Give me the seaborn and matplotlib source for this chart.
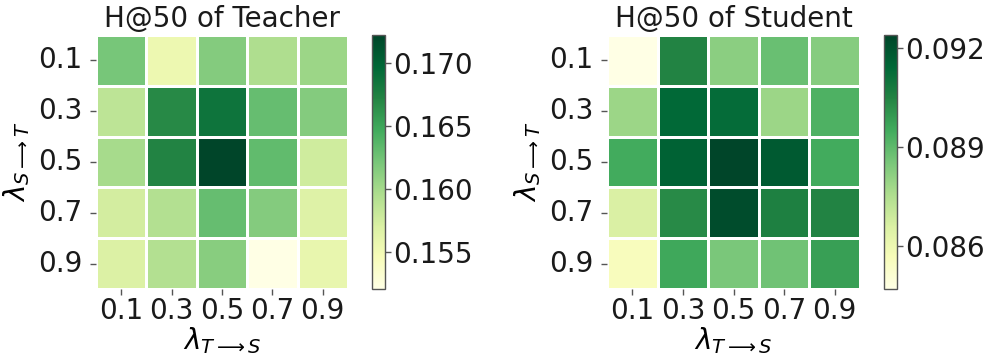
import numpy as np
import pandas as pd
import matplotlib
matplotlib.use("Agg")
import matplotlib.pyplot as plt
import seaborn as sns

# Grid of loss weights
lam_st = ["0.1", "0.3", "0.5", "0.7", "0.9"]   # rows: lambda S->T
lam_ts = ["0.1", "0.3", "0.5", "0.7", "0.9"]   # cols: lambda T->S

# H@50 of the teacher model
teacher_h50 = [
    [0.1622, 0.1555, 0.1616, 0.1595, 0.1605],
    [0.1587, 0.1668, 0.1686, 0.1630, 0.1616],
    [0.1599, 0.1672, 0.1722, 0.1632, 0.1577],
    [0.1575, 0.1593, 0.1630, 0.1616, 0.1567],
    [0.1569, 0.1593, 0.1614, 0.1521, 0.1559],
]

# H@50 of the student model
student_h50 = [
    [0.0847, 0.0905, 0.0882, 0.0888, 0.0883],
    [0.0879, 0.0914, 0.0913, 0.0879, 0.0893],
    [0.0895, 0.0916, 0.0924, 0.0918, 0.0895],
    [0.0866, 0.0903, 0.0922, 0.0906, 0.0905],
    [0.0856, 0.0896, 0.0885, 0.0887, 0.0898],
]

teacher_ticks = [0.155, 0.160, 0.165, 0.170]
student_ticks = [0.086, 0.089, 0.092]

FS = 20

plt.rcParams.update({
    "font.family": "DejaVu Sans",
    "mathtext.fontset": "dejavusans",
    "font.size": FS,
    "text.color": "#1a1a1a",
    "xtick.color": "#555555",
    "ytick.color": "#555555",
    "xtick.labelcolor": "#1a1a1a",
    "ytick.labelcolor": "#1a1a1a",
    "xtick.major.size": 4,
    "ytick.major.size": 4,
    "xtick.major.width": 1,
    "ytick.major.width": 1,
})

W, H = 985, 357
fig = plt.figure(figsize=(W / 100, H / 100), dpi=100)


def px_axes(x0, y0, x1, y1):
    return fig.add_axes([x0 / W, 1 - y1 / H, (x1 - x0) / W, (y1 - y0) / H])


panels = [
    ("H@50 of Teacher", teacher_h50, teacher_ticks, (96, 35, 348, 289), (372, 35, 385, 289)),
    ("H@50 of Student", student_h50, student_ticks, (607, 35, 860, 289), (884, 35, 897, 289)),
]

for title, vals, cticks, hm_box, cb_box in panels:
    ax = px_axes(*hm_box)
    cax = px_axes(*cb_box)
    df = pd.DataFrame(vals, index=lam_st, columns=lam_ts)
    sns.heatmap(df, ax=ax, cbar_ax=cax, cmap="YlGn", linewidths=2,
                linecolor="white", square=False)
    ax.set_title(title, fontsize=FS, pad=6)
    ax.set_xlabel(r"$\lambda_{T\longrightarrow S}$", fontsize=FS, labelpad=0)
    ax.set_ylabel(r"$\lambda_{S\longrightarrow T}$", fontsize=FS, labelpad=4)
    ax.tick_params(axis="x", labelsize=FS, pad=2)
    ax.tick_params(axis="y", labelsize=FS, pad=6)
    ax.set_yticklabels(lam_st, rotation=0)
    ax.set_xticklabels(lam_ts, rotation=0)
    cbar = ax.collections[0].colorbar
    cbar.set_ticks(cticks)
    cbar.set_ticklabels(["{:.3f}".format(t) for t in cticks])
    cax.tick_params(labelsize=FS, length=4, pad=2)
    cbar.outline.set_visible(True)
    cbar.outline.set_edgecolor("#555555")
    cbar.outline.set_linewidth(1)

fig.savefig("out.png", dpi=100)
